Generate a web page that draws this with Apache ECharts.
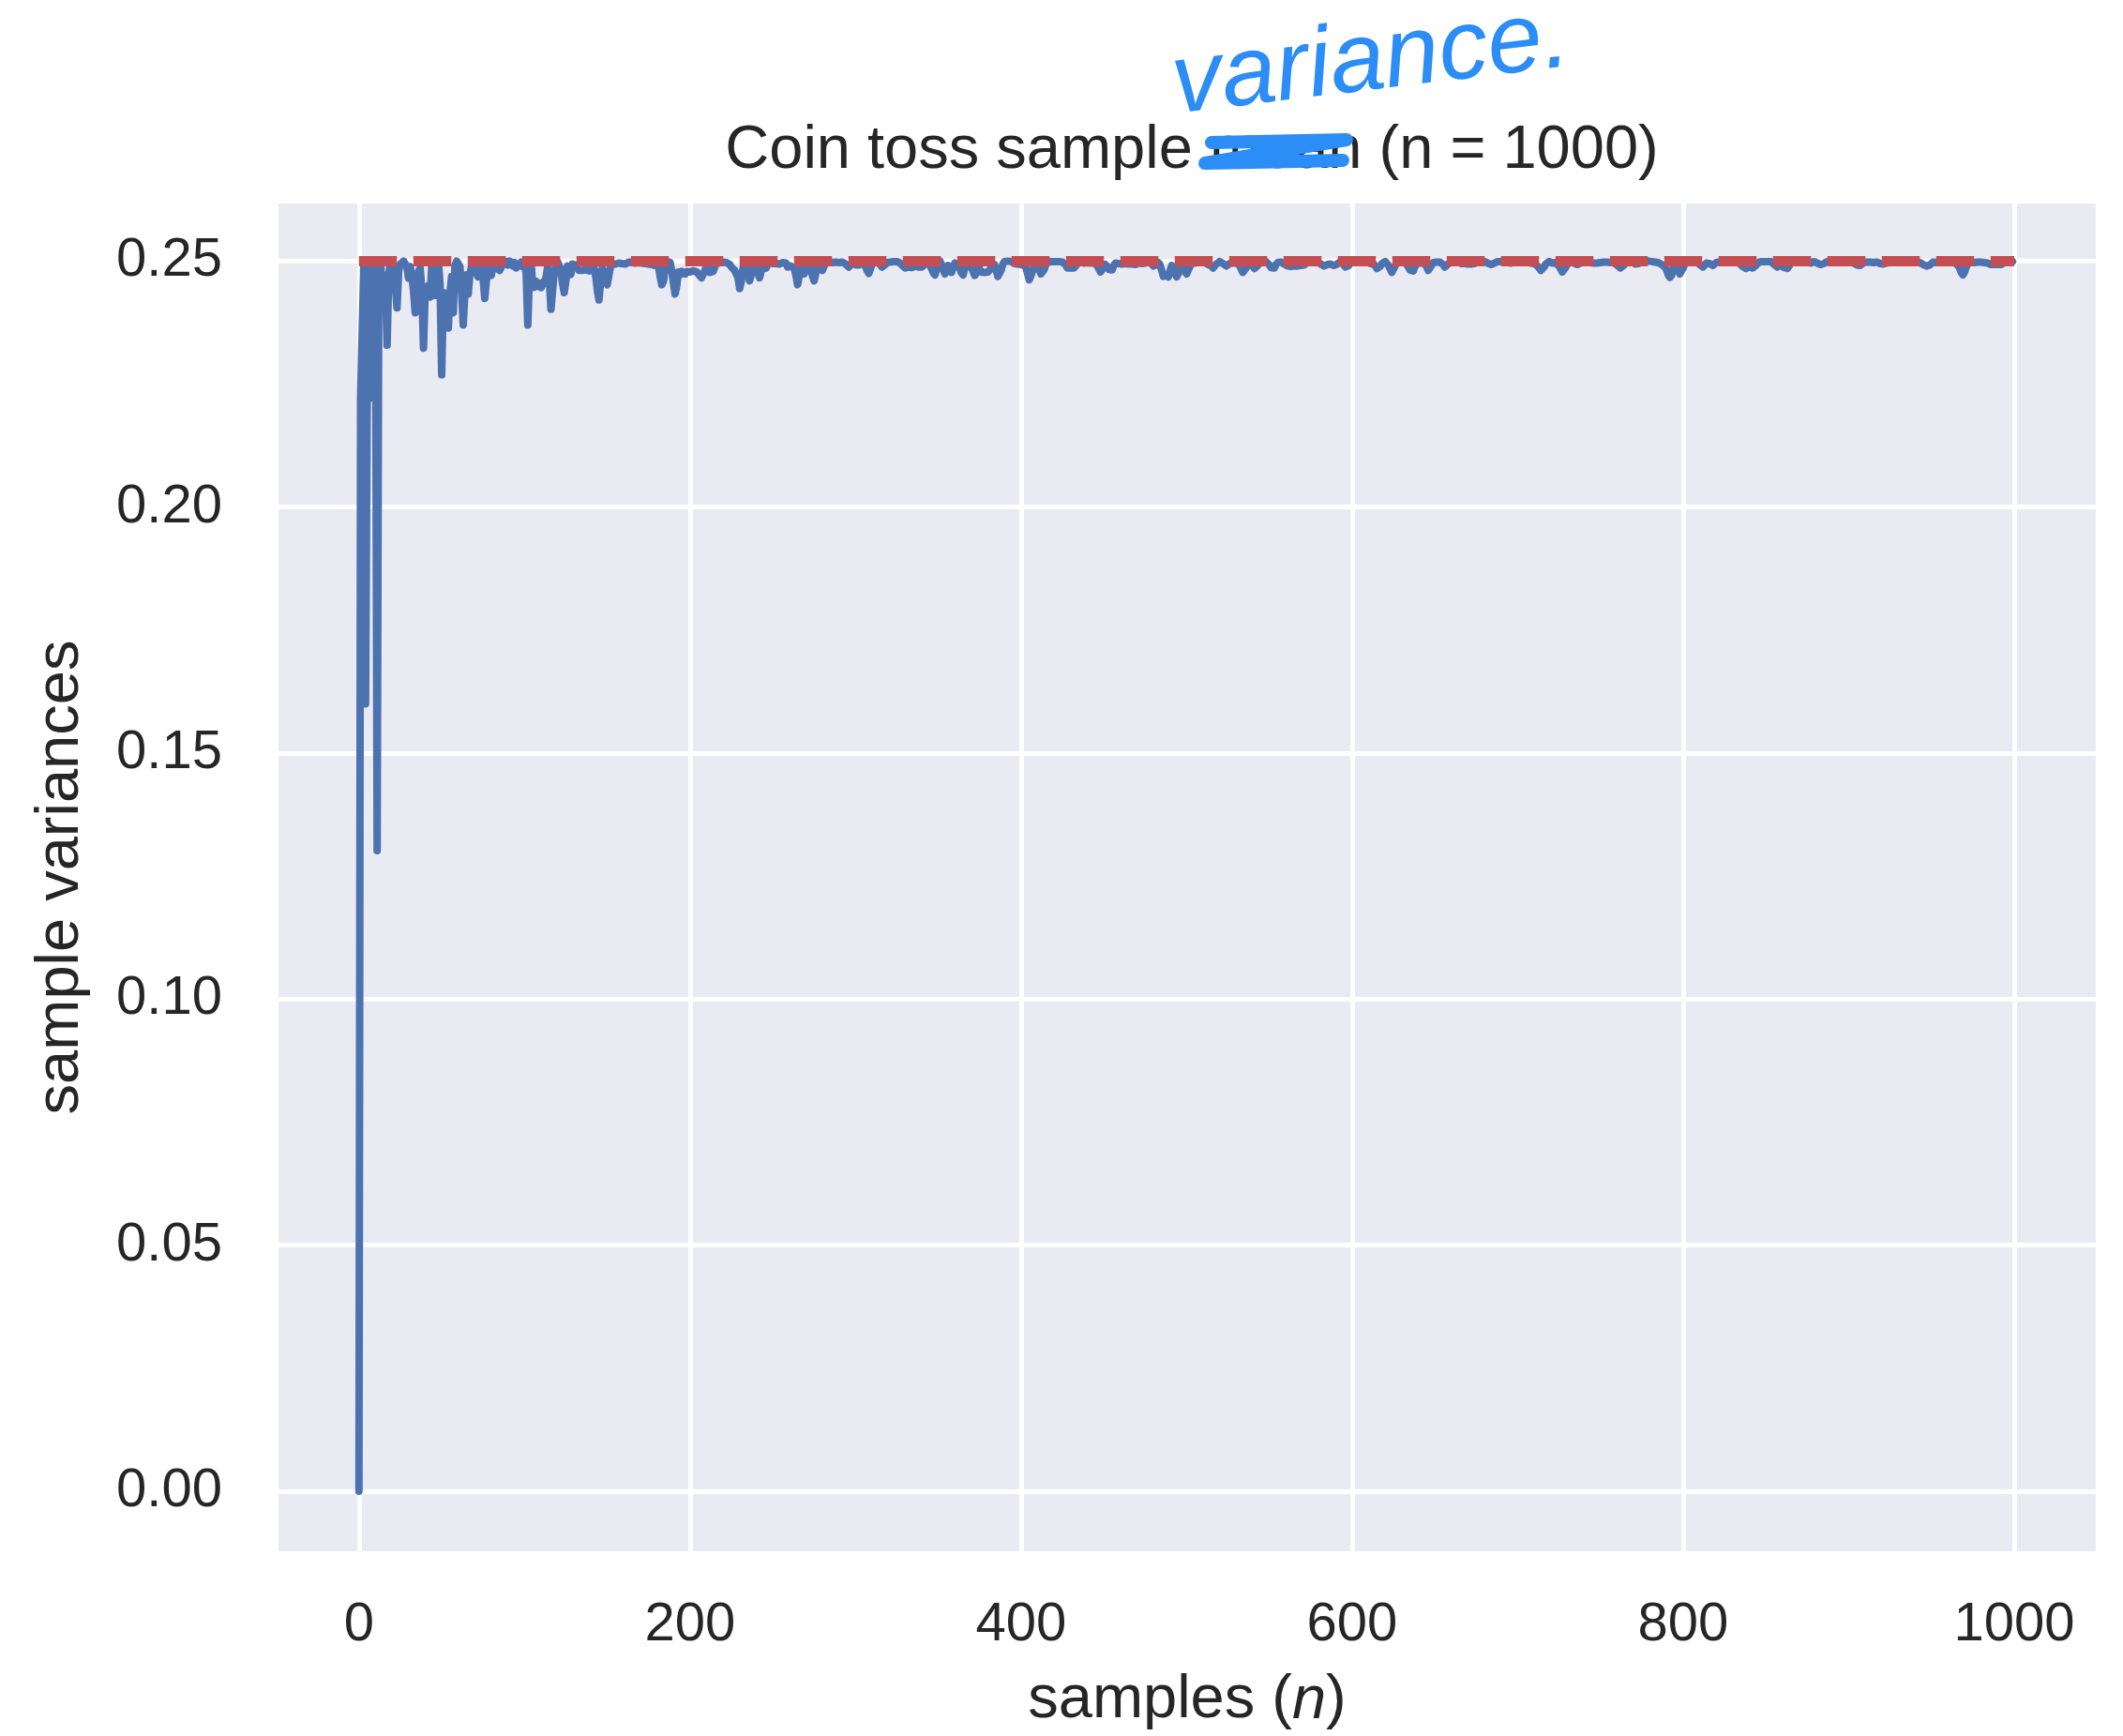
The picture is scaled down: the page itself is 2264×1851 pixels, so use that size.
<!DOCTYPE html>
<html>
<head>
<meta charset="utf-8">
<script src="https://cdn.jsdelivr.net/npm/echarts@6/dist/echarts.min.js"></script>
<style>
html, body { margin: 0; padding: 0; background: #ffffff; }
#chart { width: 2264px; height: 1851px; }
</style>
</head>
<body>
<div id="chart"></div>
<script>
// ---- data ----
const chartTitle = 'Coin toss sample mean (n = 1000)';
const handNote = 'variance.';
const xTicks = [0, 200, 400, 600, 800, 1000];
const yTicks = [0, 0.05, 0.10, 0.15, 0.20, 0.25];
const expectedVariance = 0.25;
const expectedSpan = [0, 1000];
const varianceValues = [
0, 0.2222, 0.2222, 0.25, 0.16, 0.2222, 0.25, 0.2222, 0.2469, 0.25,
0.2479, 0.1302, 0.2485, 0.25, 0.2449, 0.2472, 0.2461, 0.2329, 0.2469, 0.25,
0.2479, 0.2485, 0.2450, 0.2405, 0.2480, 0.2494, 0.2491, 0.2500, 0.2500, 0.2488,
0.2465, 0.2489, 0.2469, 0.2438, 0.2395, 0.2428, 0.2479, 0.2486, 0.2440, 0.2323,
0.2436, 0.2427, 0.2450, 0.2427, 0.2491, 0.2473, 0.2430, 0.2459, 0.2497, 0.2453,
0.2269, 0.2436, 0.2364, 0.2379, 0.2364, 0.2436, 0.2469, 0.2395, 0.2491, 0.2500,
0.2497, 0.2489, 0.2440, 0.2370, 0.2436, 0.2472, 0.2433, 0.2472, 0.2489, 0.2497,
0.2484, 0.2481, 0.2468, 0.2479, 0.2491, 0.2465, 0.2424, 0.2461, 0.2488, 0.2481,
0.2471, 0.2493, 0.2496, 0.2487, 0.2490, 0.2481, 0.2484, 0.2494, 0.2497, 0.2499,
0.2492, 0.2500, 0.2497, 0.2490, 0.2497, 0.2486, 0.2484, 0.2493, 0.2498, 0.2489,
0.2496, 0.2476, 0.2370, 0.2470, 0.2496, 0.2452, 0.2447, 0.2459, 0.2449, 0.2455,
0.2446, 0.2452, 0.2449, 0.2466, 0.2488, 0.2462, 0.2402, 0.2441, 0.2477, 0.2491,
0.2499, 0.2500, 0.2482, 0.2455, 0.2436, 0.2459, 0.2490, 0.2478, 0.2473, 0.2494,
0.2497, 0.2492, 0.2485, 0.2481, 0.2480, 0.2481, 0.2480, 0.2483, 0.2481, 0.2480,
0.2484, 0.2482, 0.2488, 0.2470, 0.2441, 0.2421, 0.2458, 0.2486, 0.2479, 0.2466,
0.2452, 0.2471, 0.2489, 0.2493, 0.2490, 0.2494, 0.2492, 0.2496, 0.2493, 0.2495,
0.2497, 0.2494, 0.2496, 0.2498, 0.2495, 0.2497, 0.2499, 0.2496, 0.2498, 0.2497,
0.2499, 0.2496, 0.2498, 0.2495, 0.2497, 0.2494, 0.2496, 0.2493, 0.2495, 0.2491,
0.2496, 0.2489, 0.2468, 0.2452, 0.2459, 0.2488, 0.2499, 0.2500, 0.2497, 0.2480,
0.2455, 0.2433, 0.2450, 0.2478, 0.2472, 0.2479, 0.2477, 0.2474, 0.2479, 0.2476,
0.2478, 0.2475, 0.2480, 0.2477, 0.2478, 0.2474, 0.2470, 0.2466, 0.2469, 0.2481,
0.2490, 0.2485, 0.2477, 0.2474, 0.2479, 0.2488, 0.2496, 0.2499, 0.2497, 0.2499,
0.2498, 0.2500, 0.2497, 0.2496, 0.2493, 0.2488, 0.2485, 0.2481, 0.2484, 0.2466,
0.2444, 0.2458, 0.2485, 0.2491, 0.2487, 0.2474, 0.2460, 0.2472, 0.2489, 0.2491,
0.2486, 0.2477, 0.2466, 0.2479, 0.2491, 0.2494, 0.2486, 0.2495, 0.2499, 0.2497,
0.2495, 0.2493, 0.2495, 0.2492, 0.2494, 0.2493, 0.2497, 0.2499, 0.2496, 0.2488,
0.2486, 0.2490, 0.2487, 0.2485, 0.2471, 0.2452, 0.2469, 0.2485, 0.2480, 0.2474,
0.2487, 0.2494, 0.2491, 0.2483, 0.2470, 0.2460, 0.2475, 0.2490, 0.2494, 0.2487,
0.2481, 0.2490, 0.2496, 0.2499, 0.2498, 0.2499, 0.2497, 0.2499, 0.2498, 0.2500,
0.2497, 0.2499, 0.2498, 0.2496, 0.2494, 0.2491, 0.2488, 0.2493, 0.2497, 0.2494,
0.2492, 0.2490, 0.2492, 0.2496, 0.2498, 0.2494, 0.2489, 0.2481, 0.2475, 0.2484,
0.2494, 0.2498, 0.2497, 0.2499, 0.2496, 0.2492, 0.2488, 0.2486, 0.2493, 0.2497,
0.2499, 0.2498, 0.2500, 0.2499, 0.2497, 0.2499, 0.2498, 0.2496, 0.2492, 0.2489,
0.2486, 0.2485, 0.2488, 0.2485, 0.2487, 0.2485, 0.2489, 0.2493, 0.2488, 0.2490,
0.2488, 0.2491, 0.2494, 0.2497, 0.2495, 0.2491, 0.2484, 0.2476, 0.2472, 0.2484,
0.2496, 0.2500, 0.2493, 0.2482, 0.2474, 0.2479, 0.2491, 0.2484, 0.2477, 0.2488,
0.2496, 0.2498, 0.2493, 0.2484, 0.2476, 0.2472, 0.2485, 0.2495, 0.2498, 0.2494,
0.2487, 0.2479, 0.2471, 0.2475, 0.2488, 0.2484, 0.2478, 0.2481, 0.2477, 0.2480,
0.2478, 0.2482, 0.2479, 0.2488, 0.2493, 0.2481, 0.2469, 0.2467, 0.2482, 0.2494,
0.2499, 0.2497, 0.2500, 0.2498, 0.2499, 0.2497, 0.2495, 0.2497, 0.2494, 0.2496,
0.2493, 0.2495, 0.2491, 0.2486, 0.2474, 0.2462, 0.2465, 0.2480, 0.2492, 0.2496,
0.2491, 0.2483, 0.2474, 0.2471, 0.2483, 0.2494, 0.2497, 0.2499, 0.2497, 0.2499,
0.2498, 0.2499, 0.2497, 0.2499, 0.2500, 0.2498, 0.2496, 0.2492, 0.2486, 0.2489,
0.2486, 0.2488, 0.2486, 0.2489, 0.2494, 0.2497, 0.2499, 0.2497, 0.2496, 0.2498,
0.2497, 0.2499, 0.2496, 0.2494, 0.2497, 0.2495, 0.2491, 0.2484, 0.2478, 0.2477,
0.2487, 0.2493, 0.2489, 0.2483, 0.2480, 0.2482, 0.2491, 0.2496, 0.2493, 0.2495,
0.2494, 0.2494, 0.2492, 0.2495, 0.2493, 0.2494, 0.2492, 0.2494, 0.2495, 0.2493,
0.2494, 0.2496, 0.2494, 0.2495, 0.2493, 0.2496, 0.2498, 0.2499, 0.2497, 0.2494,
0.2490, 0.2488, 0.2493, 0.2497, 0.2492, 0.2481, 0.2469, 0.2467, 0.2472, 0.2468,
0.2480, 0.2491, 0.2487, 0.2477, 0.2468, 0.2467, 0.2481, 0.2493, 0.2488, 0.2479,
0.2474, 0.2477, 0.2489, 0.2496, 0.2498, 0.2496, 0.2499, 0.2500, 0.2499, 0.2498,
0.2499, 0.2497, 0.2495, 0.2493, 0.2495, 0.2490, 0.2486, 0.2487, 0.2494, 0.2497,
0.2499, 0.2497, 0.2495, 0.2492, 0.2490, 0.2491, 0.2495, 0.2498, 0.2496, 0.2499,
0.2497, 0.2495, 0.2491, 0.2484, 0.2477, 0.2475, 0.2486, 0.2494, 0.2497, 0.2494,
0.2490, 0.2485, 0.2483, 0.2491, 0.2496, 0.2498, 0.2500, 0.2499, 0.2499, 0.2496,
0.2492, 0.2487, 0.2484, 0.2486, 0.2493, 0.2497, 0.2499, 0.2498, 0.2496, 0.2494,
0.2491, 0.2490, 0.2492, 0.2489, 0.2491, 0.2490, 0.2493, 0.2490, 0.2489, 0.2491,
0.2490, 0.2492, 0.2494, 0.2497, 0.2499, 0.2498, 0.2499, 0.2497, 0.2498, 0.2499,
0.2496, 0.2494, 0.2491, 0.2490, 0.2490, 0.2493, 0.2496, 0.2494, 0.2492, 0.2491,
0.2491, 0.2494, 0.2497, 0.2499, 0.2496, 0.2492, 0.2488, 0.2486, 0.2491, 0.2496,
0.2498, 0.2499, 0.2497, 0.2499, 0.2498, 0.2500, 0.2498, 0.2498, 0.2496, 0.2499,
0.2497, 0.2495, 0.2497, 0.2494, 0.2490, 0.2485, 0.2483, 0.2489, 0.2495, 0.2497,
0.2499, 0.2496, 0.2491, 0.2484, 0.2477, 0.2479, 0.2490, 0.2496, 0.2498, 0.2499,
0.2497, 0.2499, 0.2496, 0.2493, 0.2488, 0.2482, 0.2479, 0.2480, 0.2489, 0.2495,
0.2498, 0.2496, 0.2499, 0.2497, 0.2494, 0.2489, 0.2481, 0.2482, 0.2491, 0.2497,
0.2499, 0.2498, 0.2500, 0.2498, 0.2496, 0.2493, 0.2488, 0.2489, 0.2494, 0.2497,
0.2499, 0.2498, 0.2499, 0.2497, 0.2499, 0.2497, 0.2495, 0.2493, 0.2495, 0.2493,
0.2494, 0.2492, 0.2494, 0.2493, 0.2495, 0.2497, 0.2499, 0.2498, 0.2500, 0.2498,
0.2499, 0.2497, 0.2496, 0.2494, 0.2493, 0.2493, 0.2496, 0.2498, 0.2499, 0.2497,
0.2499, 0.2498, 0.2500, 0.2498, 0.2497, 0.2496, 0.2496, 0.2496, 0.2498, 0.2499,
0.2497, 0.2499, 0.2498, 0.2496, 0.2499, 0.2497, 0.2499, 0.2498, 0.2496, 0.2497,
0.2495, 0.2493, 0.2490, 0.2486, 0.2481, 0.2480, 0.2488, 0.2494, 0.2497, 0.2499,
0.2498, 0.2496, 0.2499, 0.2497, 0.2494, 0.2490, 0.2484, 0.2478, 0.2477, 0.2487,
0.2494, 0.2497, 0.2499, 0.2498, 0.2496, 0.2495, 0.2493, 0.2493, 0.2496, 0.2498,
0.2499, 0.2497, 0.2499, 0.2498, 0.2497, 0.2496, 0.2496, 0.2497, 0.2496, 0.2495,
0.2497, 0.2499, 0.2498, 0.2500, 0.2498, 0.2499, 0.2497, 0.2499, 0.2497, 0.2495,
0.2492, 0.2489, 0.2486, 0.2486, 0.2491, 0.2495, 0.2498, 0.2499, 0.2497, 0.2499,
0.2496, 0.2494, 0.2493, 0.2495, 0.2498, 0.2499, 0.2497, 0.2499, 0.2498, 0.2500,
0.2498, 0.2499, 0.2497, 0.2498, 0.2499, 0.2497, 0.2495, 0.2493, 0.2490, 0.2488,
0.2482, 0.2472, 0.2467, 0.2471, 0.2486, 0.2492, 0.2488, 0.2480, 0.2474, 0.2476,
0.2486, 0.2494, 0.2498, 0.2499, 0.2497, 0.2499, 0.2498, 0.2500, 0.2498, 0.2496,
0.2493, 0.2490, 0.2488, 0.2492, 0.2496, 0.2498, 0.2495, 0.2492, 0.2491, 0.2494,
0.2497, 0.2499, 0.2498, 0.2500, 0.2498, 0.2499, 0.2497, 0.2499, 0.2498, 0.2500,
0.2498, 0.2497, 0.2499, 0.2497, 0.2495, 0.2492, 0.2489, 0.2486, 0.2485, 0.2485,
0.2489, 0.2488, 0.2486, 0.2486, 0.2491, 0.2496, 0.2498, 0.2499, 0.2497, 0.2499,
0.2498, 0.2499, 0.2497, 0.2499, 0.2496, 0.2493, 0.2490, 0.2488, 0.2488, 0.2492,
0.2490, 0.2487, 0.2485, 0.2485, 0.2490, 0.2495, 0.2498, 0.2499, 0.2497, 0.2499,
0.2498, 0.2500, 0.2498, 0.2499, 0.2497, 0.2499, 0.2498, 0.2496, 0.2498, 0.2499,
0.2497, 0.2496, 0.2494, 0.2493, 0.2493, 0.2495, 0.2498, 0.2499, 0.2497, 0.2499,
0.2498, 0.2500, 0.2498, 0.2499, 0.2497, 0.2499, 0.2498, 0.2500, 0.2498, 0.2499,
0.2497, 0.2499, 0.2498, 0.2496, 0.2494, 0.2492, 0.2491, 0.2491, 0.2494, 0.2497,
0.2499, 0.2498, 0.2500, 0.2498, 0.2499, 0.2497, 0.2499, 0.2498, 0.2496, 0.2495,
0.2494, 0.2494, 0.2494, 0.2496, 0.2498, 0.2499, 0.2497, 0.2499, 0.2498, 0.2500,
0.2498, 0.2499, 0.2497, 0.2499, 0.2498, 0.2500, 0.2498, 0.2499, 0.2497, 0.2499,
0.2498, 0.2497, 0.2499, 0.2497, 0.2495, 0.2493, 0.2491, 0.2490, 0.2490, 0.2492,
0.2495, 0.2498, 0.2499, 0.2497, 0.2499, 0.2498, 0.2500, 0.2498, 0.2499, 0.2497,
0.2499, 0.2498, 0.2499, 0.2497, 0.2496, 0.2495, 0.2492, 0.2486, 0.2477, 0.2472,
0.2478, 0.2488, 0.2495, 0.2497, 0.2498, 0.2499, 0.2497, 0.2499, 0.2498, 0.2500,
0.2498, 0.2499, 0.2497, 0.2498, 0.2496, 0.2494, 0.2493, 0.2494, 0.2493, 0.2495,
0.2493, 0.2494, 0.2493, 0.2495, 0.2497, 0.2499, 0.2498, 0.2499, 0.2497, 0.2499
];

// ---- chart ----
const sampleIndex = varianceValues.map((v, i) => i);
const seriesData = varianceValues.map((v, i) => [sampleIndex[i], v]);
const expectedData = expectedSpan.map(x => [x, expectedVariance]);

const FONT = "'Liberation Sans', Arial, Helvetica, sans-serif";
const TEXT = '#262626';
const INK = '#2B8DF5';

const chart = echarts.init(document.getElementById('chart'), null, { renderer: 'canvas' });

chart.setOption({
  animation: false,
  backgroundColor: '#ffffff',
  title: {
    text: chartTitle,
    left: 1266,
    top: 124,
    textAlign: 'center',
    textStyle: { fontFamily: FONT, fontSize: 65, lineHeight: 65, fontWeight: 'normal', color: TEXT }
  },
  grid: {
    left: 297, right: 29, top: 217, bottom: 192,
    show: true, backgroundColor: '#EAEAF2', borderWidth: 0
  },
  xAxis: {
    type: 'value',
    min: -48.6, max: 1049.3,
    name: 'samples ({it|n})',
    nameLocation: 'middle',
    nameGap: 127,
    nameTextStyle: {
      fontFamily: FONT, fontSize: 65, lineHeight: 65, color: TEXT,
      rich: { it: { fontFamily: FONT, fontSize: 65, lineHeight: 65, fontStyle: 'italic', color: TEXT } }
    },
    axisLine: { show: false },
    axisTick: { show: false, customValues: xTicks },
    axisLabel: {
      customValues: xTicks, margin: 50,
      fontFamily: FONT, fontSize: 58, lineHeight: 58, color: TEXT,
      formatter: v => String(v)
    },
    splitLine: { show: true, lineStyle: { color: '#ffffff', width: 5 } }
  },
  yAxis: {
    type: 'value',
    min: -0.0122, max: 0.2617,
    name: 'sample variances',
    nameLocation: 'middle',
    nameGap: 199,
    nameTextStyle: { fontFamily: FONT, fontSize: 65, lineHeight: 65, color: TEXT },
    axisLine: { show: false },
    axisTick: { show: false, customValues: yTicks },
    axisLabel: {
      customValues: yTicks, margin: 60,
      fontFamily: FONT, fontSize: 58, lineHeight: 58, color: TEXT,
      formatter: v => v.toFixed(2)
    },
    splitLine: { show: true, lineStyle: { color: '#ffffff', width: 5 } }
  },
  series: [
    {
      type: 'line',
      data: seriesData,
      showSymbol: false,
      symbol: 'none',
      sampling: null,
      lineStyle: { color: '#4C72B0', width: 8, cap: 'round', join: 'round' },
      z: 2
    },
    {
      type: 'line',
      data: expectedData,
      showSymbol: false,
      symbol: 'none',
      lineStyle: { color: '#C44E52', width: 11, type: [40.5, 17.5], cap: 'butt' },
      z: 3
    }
  ],
  graphic: [
    {
      type: 'polyline',
      shape: { points: [[1292, 152], [1436, 149], [1285, 174], [1432, 171]] },
      style: { stroke: INK, lineWidth: 14, fill: null, lineCap: 'round', lineJoin: 'round' },
      z: 100
    },
    {
      type: 'text',
      x: 1462, y: 66,
      rotation: 0.12,
      style: {
        text: handNote,
        fill: INK,
        font: "italic 105px 'Liberation Sans', Arial, sans-serif",
        align: 'center', verticalAlign: 'middle'
      },
      z: 100
    }
  ]
});
</script>
</body>
</html>
